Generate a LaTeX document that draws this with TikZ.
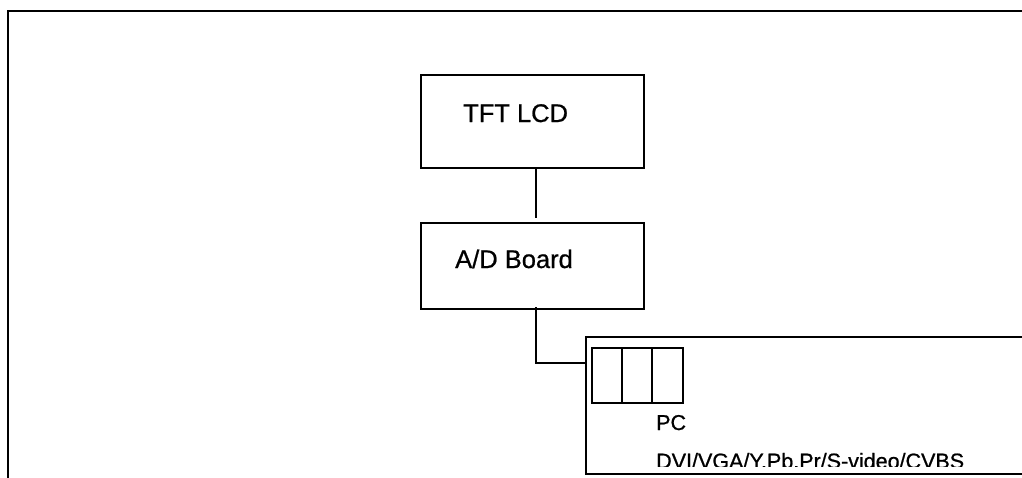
\documentclass[tikz,border=0pt]{standalone}
\usepackage{fontspec}
\setmainfont{Liberation Sans}
\begin{document}
\begin{tikzpicture}[x=1pt,y=-1pt,
  frame/.style={draw=black,line width=2pt},
  blk/.style={draw=black,line width=1.3pt},
  wire/.style={draw=black,line width=1.2pt},
  big/.style={font=\fontsize{25.5}{25.5}\selectfont\addfontfeature{FakeBold=0.8}},
  small/.style={font=\fontsize{21.5}{21.5}\selectfont\addfontfeature{FakeBold=0.8}}]
\useasboundingbox (0,0) rectangle (1022,477);
\clip (0,0) rectangle (1022,477);
% outer frame
\draw[frame] (8,490) -- (8,11) -- (1040,11);
% TFT LCD
\path[blk] (421,75) rectangle (644,168);
\coordinate (lcdS) at (536,168);
\node[big,anchor=base west,inner sep=0pt] (lcd) at (463,122) {TFT LCD};
% A/D Board
\path[blk] (421,223) rectangle (644,309);
\coordinate (adN) at (536,218);
\coordinate (adS) at (536,307);
\node[big,anchor=base west,inner sep=0pt] (ad) at (455,268) {A/D Board};
% connectors
\draw[wire] (lcdS) -- (adN);
\coordinate (inW) at (586,363);
\draw[wire] (adS) -- (536,363) -- (inW);
% input box
\path[blk] (586,337) rectangle (1040,474);
\path[blk] (592,348) rectangle (683,403);
\draw[blk] (622,348) -- (622,403);
\draw[blk] (652,348) -- (652,403);
\node[small,anchor=base west,inner sep=0pt] (pc) at (656,430) {PC};
\node[small,anchor=base west,inner sep=0pt] (dvi) at (656,468.5) {DVI/VGA/Y.Pb.Pr/S-video/CVBS};
\fill[white] (587,467) rectangle (1030,473);
\draw[blk] (586,474) -- (1040,474);
\end{tikzpicture}
\end{document}
